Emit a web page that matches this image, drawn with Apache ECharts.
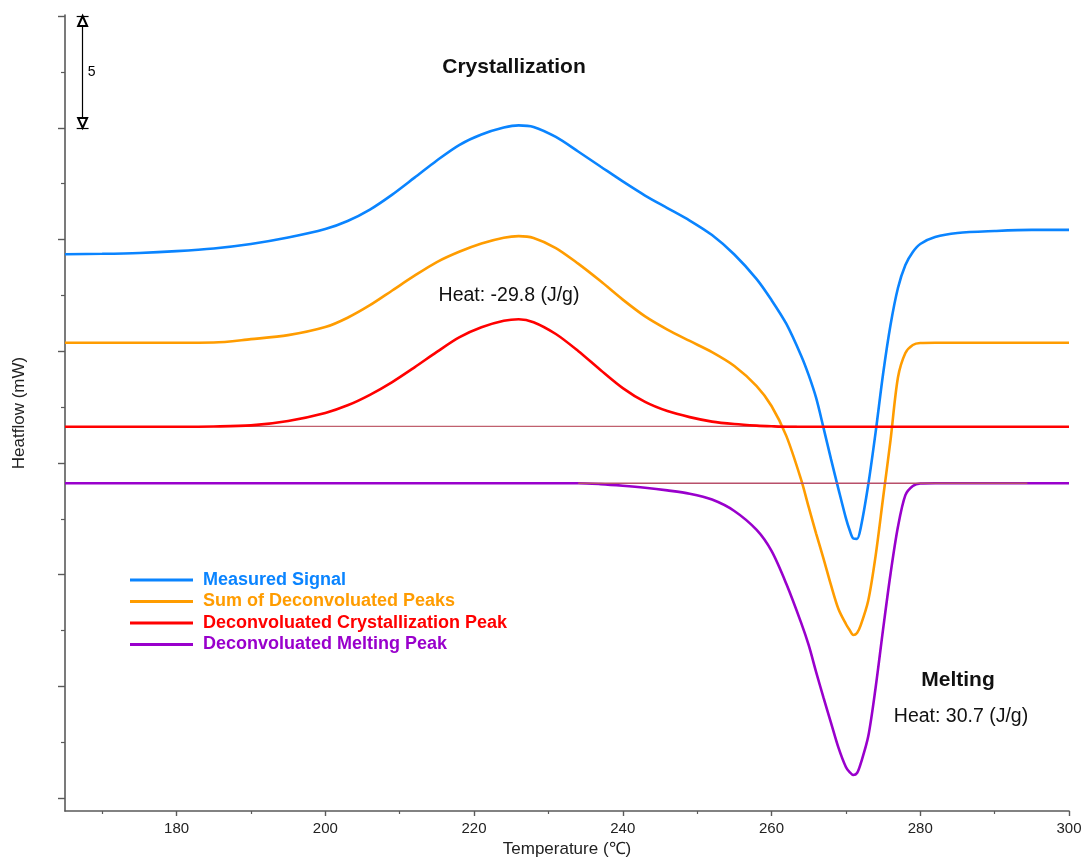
<!DOCTYPE html>
<html>
<head>
<meta charset="utf-8">
<script src="https://cdn.jsdelivr.net/npm/echarts@6/dist/echarts.min.js"></script>
<style>html,body{margin:0;padding:0;background:#fff;overflow:hidden}#chart{width:1086px;height:857px}</style>
</head>
<body>
<div id="chart"></div>
<script>
// ---- data (Temperature in ℃, heat flow in mW, curves offset as displayed) ----
const temps = [165,170,175,180,185,190,195,200,203,206,209,212,215,218,221,224,226,228,231,234,237,240,243,246,249,252,255,258,260,262,264,265,266,267,268,269,270,270.5,271,271.5,272,273,274,275,276,277,278,279,280,282,285,290,295,300];
const measuredSignal = [24.34,24.36,24.40,24.48,24.60,24.80,25.09,25.47,25.83,26.34,27.01,27.77,28.54,29.23,29.70,30.01,30.11,30.04,29.59,28.94,28.27,27.60,26.97,26.41,25.85,25.20,24.33,23.23,22.29,21.22,19.79,18.93,17.91,16.56,15.17,13.83,12.53,12.00,11.62,11.60,12.10,14.01,16.38,18.98,21.17,22.83,23.86,24.44,24.80,25.11,25.29,25.38,25.43,25.43];
const sumPeaks = [20.38,20.38,20.38,20.38,20.39,20.54,20.72,21.08,21.50,22.06,22.72,23.38,23.99,24.45,24.82,25.08,25.15,25.07,24.62,23.92,23.14,22.31,21.56,20.97,20.46,19.96,19.34,18.44,17.55,16.20,14.23,13.02,11.84,10.71,9.53,8.46,7.79,7.52,7.30,7.39,7.74,8.83,10.85,13.43,16.01,18.82,19.92,20.28,20.37,20.38,20.38,20.38,20.38,20.38];
const crystPeak = [16.62,16.62,16.62,16.62,16.63,16.68,16.88,17.24,17.58,18.05,18.62,19.28,19.97,20.62,21.07,21.36,21.43,21.30,20.77,20.01,19.16,18.35,17.73,17.32,17.05,16.85,16.74,16.67,16.64,16.62,16.62,16.62,16.62,16.62,16.62,16.62,16.62,16.62,16.62,16.62,16.62,16.62,16.62,16.62,16.62,16.62,16.62,16.62,16.62,16.62,16.62,16.62,16.62,16.62];
const meltPeak = [14.09,14.09,14.09,14.09,14.09,14.09,14.09,14.09,14.09,14.09,14.09,14.09,14.09,14.09,14.09,14.09,14.09,14.09,14.09,14.09,14.05,13.98,13.89,13.77,13.62,13.36,12.85,12.00,11.06,9.58,7.83,6.84,5.64,4.48,3.37,2.26,1.39,1.16,1.03,1.12,1.55,2.75,4.95,7.55,10.03,12.14,13.56,13.97,14.08,14.09,14.09,14.09,14.09,14.09];
const crystBaseT = [186, 263.4];
const crystBaseY = [16.64, 16.64];
const meltBaseT = [234, 294.4];
const meltBaseY = [14.09, 14.09];
const seriesNames = ['Measured Signal','Sum of Deconvoluated Peaks','Deconvoluated Crystallization Peak','Deconvoluated Melting Peak'];
const seriesColors = ['#0a84ff','#ff9c00','#ff0000','#9900cc'];
const xMajorTicks = [180,200,220,240,260,280,300];
const xMinorTicks = [170,190,210,230,250,270,290];
const yMajorTicks = [0,5,10,15,20,25,30,35];
const yMinorTicks = [2.5,7.5,12.5,17.5,22.5,27.5,32.5];
const scaleBarT = 167.37;
const scaleBarY = [30, 35];
const scaleBarLabel = '5';

const FONT = "'Liberation Sans', Arial, sans-serif";
const AXIS_COLOR = '#5a5a5a';
const X_MIN = 165, X_MAX = 300, Y_MIN = -0.58, Y_MAX = 35.05;

const chart = echarts.init(document.getElementById('chart'), null, {renderer: 'canvas', width: 1086, height: 857});

function pairs(vals) { return temps.map((t, i) => [t, vals[i]]); }
const curves = [measuredSignal, sumPeaks, crystPeak, meltPeak];

const series = curves.map((vals, i) => ({
  name: seriesNames[i],
  type: 'line',
  data: pairs(vals),
  showSymbol: false,
  symbol: 'none',
  smooth: 0.3,
  color: seriesColors[i],
  lineStyle: {width: 2.6, color: seriesColors[i]},
  z: 3 + i
}));

series.splice(3, 0, {
  name: 'crystBaseline', type: 'line', symbol: 'none', silent: true,
  data: crystBaseT.map((t, i) => [t, crystBaseY[i]]),
  lineStyle: {width: 1.3, color: '#c0606e'}, z: 2
});
series.push({
  name: 'meltBaseline', type: 'line', symbol: 'none', silent: true,
  data: meltBaseT.map((t, i) => [t, meltBaseY[i]]),
  lineStyle: {width: 1.3, color: '#b8506a'}, z: 10
});
const capHalf = 0.8;
const triOff = 0.22;
series.push({
  name: 'scaleBar', type: 'line', data: [], silent: true,
  markLine: {
    silent: true, animation: false,
    label: {show: false},
    lineStyle: {color: '#000', width: 1.2, type: 'solid'},
    emphasis: {disabled: true},
    data: [
      [{coord: [scaleBarT, scaleBarY[0] + triOff], symbol: 'emptyTriangle', symbolSize: [9, 10]},
       {coord: [scaleBarT, scaleBarY[1] - triOff], symbol: 'emptyTriangle', symbolSize: [9, 10]}],
      [{coord: [scaleBarT - capHalf, scaleBarY[0]], symbol: 'none'}, {coord: [scaleBarT + capHalf, scaleBarY[0]], symbol: 'none'}],
      [{coord: [scaleBarT - capHalf, scaleBarY[1]], symbol: 'none'}, {coord: [scaleBarT + capHalf, scaleBarY[1]], symbol: 'none'}]
    ]
  },
  markPoint: {
    silent: true, animation: false,
    symbol: 'circle', symbolSize: 0,
    label: {show: true, position: 'inside', formatter: scaleBarLabel, color: '#000', fontSize: 14, fontFamily: FONT},
    data: [{coord: [scaleBarT + 1.2, (scaleBarY[0] + scaleBarY[1]) / 2]}]
  }
});

const option = {
  animation: false,
  backgroundColor: '#fff',
  textStyle: {fontFamily: FONT},
  grid: {left: 65, right: 17, top: 15, bottom: 46, containLabel: false, outerBoundsMode: 'none'},
  legend: {
    orient: 'vertical', left: 130, top: 570, padding: 0,
    icon: 'rect', itemWidth: 63, itemHeight: 3, itemGap: 1.5,
    textStyle: {fontFamily: FONT, fontSize: 18, fontWeight: 'bold', lineHeight: 20, padding: [0, 0, 0, 5]},
    data: seriesNames.map((n, i) => ({name: n, textStyle: {color: seriesColors[i]}})),
    selectedMode: false
  },
  xAxis: [{
    type: 'value', min: X_MIN, max: X_MAX,
    name: 'Temperature (℃)', nameLocation: 'middle', nameGap: 28,
    nameTextStyle: {fontSize: 17, color: '#222', fontFamily: FONT},
    axisLine: {show: true, onZero: false, lineStyle: {color: AXIS_COLOR, width: 1.6}},
    axisTick: {show: true, length: 5, lineStyle: {color: AXIS_COLOR, width: 1.4}, customValues: xMajorTicks},
    axisLabel: {show: true, margin: 10, fontSize: 15, color: '#222', fontFamily: FONT, customValues: xMajorTicks},
    splitLine: {show: false}
  }, {
    type: 'value', min: X_MIN, max: X_MAX, position: 'bottom',
    axisLine: {show: false, onZero: false},
    axisTick: {show: true, length: 3, lineStyle: {color: AXIS_COLOR, width: 1.2}, customValues: xMinorTicks},
    axisLabel: {show: false},
    splitLine: {show: false}
  }],
  yAxis: [{
    type: 'value', min: Y_MIN, max: Y_MAX,
    name: 'Heatflow (mW)', nameLocation: 'middle', nameGap: 37, nameRotate: 90,
    nameTextStyle: {fontSize: 17, color: '#222', fontFamily: FONT},
    axisLine: {show: true, onZero: false, lineStyle: {color: AXIS_COLOR, width: 1.6}},
    axisTick: {show: true, length: 7, lineStyle: {color: AXIS_COLOR, width: 1.4}, customValues: yMajorTicks},
    axisLabel: {show: false},
    splitLine: {show: false}
  }, {
    type: 'value', min: Y_MIN, max: Y_MAX, position: 'left',
    axisLine: {show: false, onZero: false},
    axisTick: {show: true, length: 4, lineStyle: {color: AXIS_COLOR, width: 1.2}, customValues: yMinorTicks},
    axisLabel: {show: false},
    splitLine: {show: false}
  }],
  graphic: [
    {type: 'text', x: 514, y: 67, z: 20, style: {text: 'Crystallization', font: "bold 21px " + FONT, fill: '#111', align: 'center', verticalAlign: 'middle'}},
    {type: 'text', x: 509, y: 296, z: 20, style: {text: 'Heat: -29.8 (J/g)', font: "19.5px " + FONT, fill: '#111', align: 'center', verticalAlign: 'middle'}},
    {type: 'text', x: 958, y: 680, z: 20, style: {text: 'Melting', font: "bold 21px " + FONT, fill: '#111', align: 'center', verticalAlign: 'middle'}},
    {type: 'text', x: 961, y: 717, z: 20, style: {text: 'Heat: 30.7 (J/g)', font: "19.5px " + FONT, fill: '#111', align: 'center', verticalAlign: 'middle'}}
  ],
  series: series
};
chart.setOption(option);
</script>
</body>
</html>
